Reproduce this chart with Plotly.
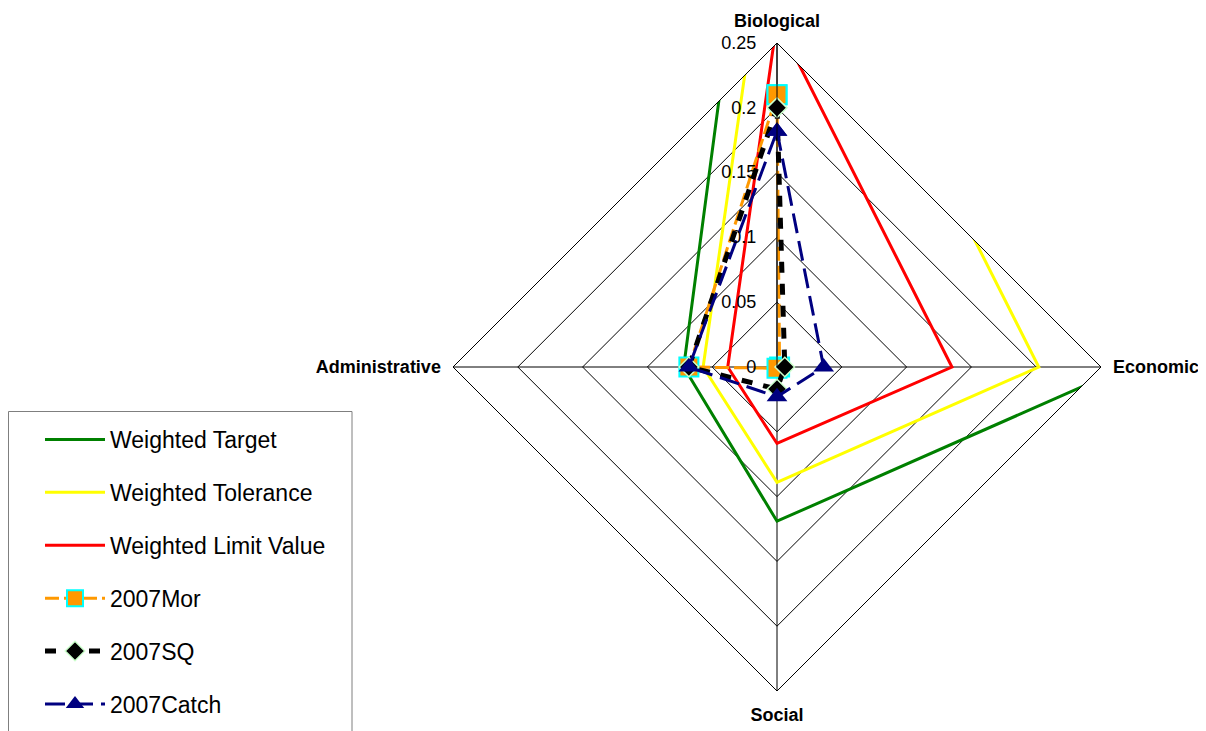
import plotly.graph_objects as go

categories = ["Biological", "Economic", "Social", "Administrative"]

weighted_target = [0.545, 0.27, 0.119, 0.072]
weighted_tolerance = [0.40, 0.202, 0.089, 0.057]
weighted_limit = [0.267, 0.135, 0.059, 0.038]
mor_2007 = [0.21, 0.002, 0.001, 0.068]
sq_2007 = [0.20, 0.006, 0.017, 0.068]
catch_2007 = [0.182, 0.036, 0.023, 0.068]

radial_ticks = [0, 0.05, 0.1, 0.15, 0.2, 0.25]
radial_ticktext = ["0", "0.05", "0.1", "0.15", "0.2", "0.25"]


def closed(vals):
    return list(vals) + [vals[0]]


theta = closed(categories)
FONT = "Liberation Sans, Arial, sans-serif"
W, H = 1206, 731
OFF = 8  # page body margin shifts the figure by 8px

fig = go.Figure()

series = [
    ("Weighted Target", weighted_target, dict(color="#008000", width=3), None),
    ("Weighted Tolerance", weighted_tolerance, dict(color="#FFFF00", width=3), None),
    ("Weighted Limit Value", weighted_limit, dict(color="#FF0000", width=3), None),
    ("2007Mor", mor_2007, dict(color="#FF9900", width=3, dash="14px,5px"),
     dict(symbol="square", size=19, color="#FF9900", line=dict(color="#00FFFF", width=2))),
    ("2007SQ", sq_2007, dict(color="#000000", width=5, dash="11px,11px"),
     dict(symbol="diamond", size=15, color="#000000", line=dict(color="#CCFFCC", width=1.5))),
    ("2007Catch", catch_2007, dict(color="#000080", width=3, dash="20px,8px"),
     dict(symbol="triangle-up", size=18, color="#000080")),
]

for i, (name, vals, line, marker) in enumerate(series):
    kw = dict(
        r=closed(vals), theta=theta, name=name, line=line,
        legendgroup=f"g{i}", cliponaxis=False,
    )
    if marker is None:
        kw["mode"] = "lines"
    else:
        kw["mode"] = "lines+markers"
        kw["marker"] = marker
    fig.add_trace(go.Scatterpolar(**kw))

# legend frame (the reference frame runs off the bottom of the picture)
fig.add_shape(
    type="rect", xref="paper", yref="paper",
    x0=0.5 / W, x1=(352 - OFF) / W, y0=-20 / H, y1=1 - (411.5 - OFF) / H,
    line=dict(color="#7f7f7f", width=1), fillcolor="rgba(0,0,0,0)", layer="above",
)

cx, cy, R = 777 - OFF, 367 - OFF, 324

fig.update_layout(
    width=W, height=H,
    paper_bgcolor="white",
    margin=dict(l=0, r=0, t=0, b=0, autoexpand=False),
    font=dict(family=FONT, color="black"),
    polar=dict(
        domain=dict(x=[(cx - R) / W, (cx + R) / W],
                    y=[(H - cy - R) / H, (H - cy + R) / H]),
        bgcolor="rgba(0,0,0,0)",
        gridshape="linear",
        radialaxis=dict(
            range=[0, 0.25], tickvals=radial_ticks, ticktext=radial_ticktext,
            angle=90, tickangle=90, side="counterclockwise",
            showline=True, linecolor="black", linewidth=1,
            gridcolor="black", gridwidth=1,
            ticks="outside", ticklen=14, tickcolor="rgba(0,0,0,0)",
            tickfont=dict(size=18, family=FONT),
        ),
        angularaxis=dict(
            rotation=90, direction="clockwise",
            showline=True, linecolor="black", linewidth=1,
            gridcolor="black", gridwidth=1,
            ticks="outside", ticklen=8, tickcolor="rgba(0,0,0,0)",
            tickfont=dict(size=18, family=FONT, weight="bold"),
        ),
    ),
    legend=dict(
        x=32 / W, y=1 - 410 / H, xanchor="left", yanchor="top",
        borderwidth=0, bgcolor="rgba(0,0,0,0)",
        font=dict(size=23, family=FONT),
        tracegroupgap=20, itemwidth=60,
    ),
)

fig.write_html("out.html")
